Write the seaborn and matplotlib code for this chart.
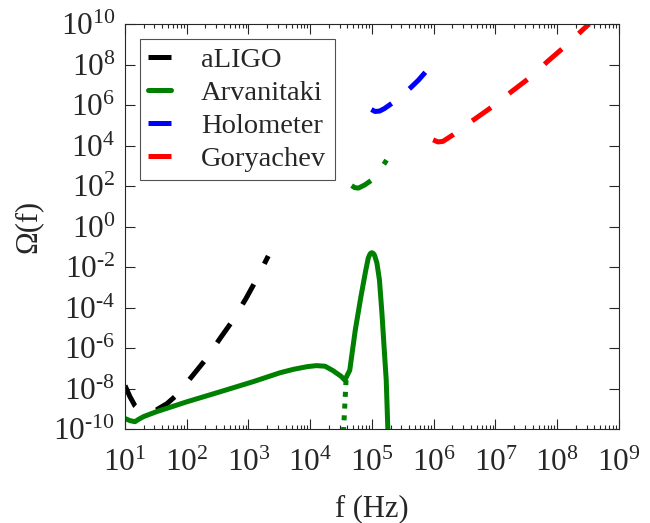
import matplotlib
matplotlib.use("Agg")
import matplotlib.pyplot as plt
import numpy as np
import pandas as pd
import seaborn as sns
from matplotlib.ticker import LogLocator, NullLocator, FixedLocator

# aLIGO sensitivity (black dashed)
aligo_f = [10, 12, 14.5, 17.8, 22.4, 32, 48, 69, 120, 204, 347, 562, 912, 1380, 2090]
aligo_om = [1.4e-8, 4.0e-9, 1.4e-9, 7.9e-10, 6.6e-10, 8.7e-10, 1.8e-9, 4.8e-9,
            3.8e-8, 2.8e-7, 3.0e-6, 2.4e-5, 2.8e-4, 2.8e-3, 3.5e-2]

# Arvanitaki signal (green solid)
arv_f = [10, 12, 14.5, 16.6, 20, 32, 100, 347, 1200, 3240, 5370, 8900, 12600,
         17400, 23400, 31600, 36300, 43600, 53700, 66100, 79400, 87100, 93300,
         98900, 105000, 110000, 120000, 132000, 145000, 157000, 170000, 180000,
         186000]
arv_om = [3.3e-10, 2.6e-10, 2.3e-10, 3.0e-10, 4.1e-10, 7.1e-10, 2.2e-9, 6.9e-9,
          2.2e-8, 6.0e-8, 8.9e-8, 1.2e-7, 1.35e-7, 1.26e-7, 7.6e-8, 4.0e-8,
          2.6e-8, 7.9e-8, 7.9e-6, 3.4e-4, 7.1e-3, 2.8e-2, 4.5e-2, 5.1e-2,
          4.7e-2, 3.8e-2, 1.6e-2, 2.3e-3, 5.1e-5, 1.1e-6, 2.6e-8, 1.3e-10, 1e-11]

# Arvanitaki low branch (green dotted)
arv_dot_f = [38000, 36300, 34300]
arv_dot_om = [2.6e-8, 1.5e-9, 5e-11]

# Arvanitaki sensitivity (green dash-dot)
arv_dd_f = [46800, 52500, 60300, 75900, 100000, 126000, 158000, 200000]
arv_dd_om = [105, 83, 79, 112, 200, 447, 1260, 3980]

# Holometer (blue dashed)
holo_f = [97700, 112000, 132000, 158000, 209000, 282000, 427000, 562000, 767000]
holo_om = [6.0e5, 4.8e5, 5.0e5, 6.6e5, 1.2e6, 2.4e6, 7.4e6, 1.66e7, 4.9e7]

# Goryachev (red dashed)
gory_f = [977000, 1.17e6, 1.41e6, 2.09e6, 4.37e6, 8.9e6, 1.82e7, 3.63e7,
          7.2e7, 1.41e8, 3.0e8, 3.3e8]
gory_om = [1.9e4, 1.5e4, 1.6e4, 3.5e4, 1.8e5, 8.3e5, 4.6e6, 2.3e7, 1.55e8,
           9.1e8, 7.9e9, 1e10]

sns.set_style("ticks")
plt.rcParams["font.family"] = ["Liberation Serif", "DejaVu Serif"]
plt.rcParams["mathtext.fontset"] = "custom"
plt.rcParams["mathtext.rm"] = "Liberation Serif"
plt.rcParams["mathtext.it"] = "Liberation Serif:italic"
plt.rcParams["font.size"] = 22

fig = plt.figure(figsize=(6.5, 5.23), dpi=100)
ax = fig.add_axes([0.1923, 0.1797, 0.7600, 0.7744])

lw = 3.6
dash = (0, (4.6, 4.6))
curves = [
    (aligo_f, aligo_om, "black", dash, "aLIGO"),
    (arv_f, arv_om, "green", "-", "Arvanitaki"),
    (arv_dot_f, arv_dot_om, "green", (0, (1, 1.35)), None),
    (arv_dd_f, arv_dd_om, "green", (0, (4.4, 4.2, 1, 4.2)), None),
    (holo_f, holo_om, "blue", dash, "Holometer"),
    (gory_f, gory_om, "red", dash, "Goryachev"),
]
for f, om, col, ls, lab in curves:
    df = pd.DataFrame({"f": f, "omega": om})
    sns.lineplot(data=df, x="f", y="omega", ax=ax, color=col, lw=lw,
                 linestyle=ls, sort=False, label=lab, legend=False)

ax.set_xscale("log")
ax.set_yscale("log")
ax.set_xlim(10, 1e9)
ax.set_ylim(1e-10, 1e10)

ax.xaxis.set_major_locator(FixedLocator([10.0 ** k for k in range(1, 10)]))
ax.set_xticklabels([rf"$10^{{{k}}}$" for k in range(1, 10)], fontsize=22.5)
ax.xaxis.set_minor_locator(LogLocator(base=10, subs=np.arange(2, 10), numticks=20))
yexp = list(range(-10, 11, 2))
ax.yaxis.set_major_locator(FixedLocator([10.0 ** k for k in yexp]))
ax.set_yticklabels([rf"$10^{{\text{{-}}{-k}}}$" if k < 0 else rf"$10^{{{k}}}$"
                    for k in yexp], fontsize=22.5)
ax.yaxis.set_minor_locator(NullLocator())

ax.tick_params(which="both", direction="in", top=True, right=True,
               color="#262626", width=0.8)
ax.tick_params(which="major", length=7)
ax.tick_params(which="minor", length=3.2)
ax.tick_params(axis="x", which="major", pad=14)
ax.tick_params(axis="y", which="major", pad=7)
for sp in ax.spines.values():
    sp.set_color("#262626")
    sp.set_linewidth(0.8)

ax.set_xlabel("f (Hz)", labelpad=12)
ax.set_ylabel("Ω(f)", labelpad=8)

leg = ax.legend(loc="upper left", bbox_to_anchor=(0.03, 0.963),
                frameon=True, fancybox=False, edgecolor="#262626",
                fontsize=20.5, handlelength=0.8, handletextpad=1.05,
                labelspacing=0.24, borderpad=0.3, borderaxespad=0)
leg.get_frame().set_linewidth(0.8)

fig.savefig("out.png", dpi=100)
